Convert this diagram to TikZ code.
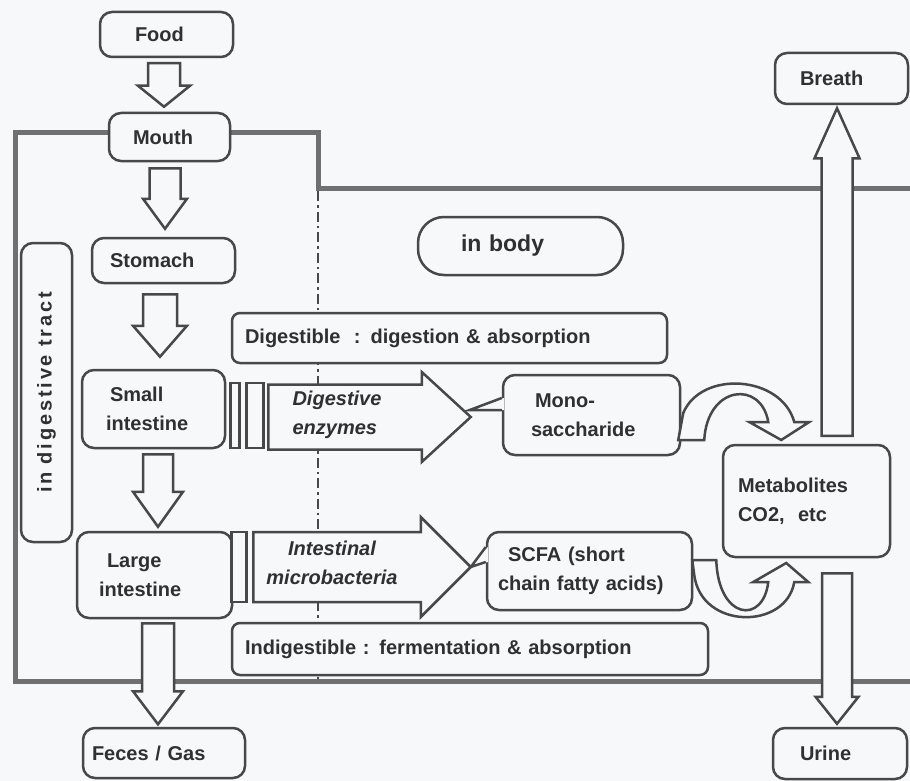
\documentclass[tikz,border=0pt]{standalone}
\usepackage{fontspec}
\setmainfont{Liberation Sans}
\usepackage{tikz}
\usetikzlibrary{calc}
\definecolor{paper}{RGB}{246,248,250}
\definecolor{edge}{RGB}{72,72,72}
\definecolor{ink}{RGB}{48,48,48}
\definecolor{frame}{RGB}{112,112,112}
\newcommand{\boxfont}{\fontsize{20}{29}\selectfont\bfseries}
\tikzstyle{box_r} = [rectangle, rounded corners=12pt, draw=edge, line width=2.5pt, fill=paper, text=ink, font=\boxfont, align=left, inner ysep=0pt]
\tikzstyle{box_t} = [text=ink, font=\boxfont, align=left, inner sep=0pt]
\tikzstyle{blk} = [draw=edge, line width=2.5pt, fill=paper, line join=miter]
\tikzstyle{wall} = [draw=frame, line width=5pt]
\tikzstyle{gut_line} = [draw=edge, line width=2.5pt, dash pattern=on 10pt off 4pt on 2.5pt off 4pt]
% vertical block arrow: from, to, half shaft, half head, head length
\newcommand{\vblock}[5]{%
  \draw[blk] let \p1=(#1), \p2=(#2), \n1={ifthenelse(\y2>\y1,1,-1)} in
    ({\x2-#3},\y1) -- ({\x2-#3},{\y2-(\n1)*#5}) -- ({\x2-#4},{\y2-(\n1)*#5}) -- (\x2,\y2)
    -- ({\x2+#4},{\y2-(\n1)*#5}) -- ({\x2+#3},{\y2-(\n1)*#5}) -- ({\x2+#3},\y1) -- cycle;}
% horizontal block arrow (to the right): from, tip, half shaft, half head, head length
\newcommand{\hblock}[5]{%
  \draw[blk] let \p1=(#1), \p2=(#2) in
    (\x1,{\y2+#3}) -- ({\x2-#5},{\y2+#3}) -- ({\x2-#5},{\y2+#4}) -- (\x2,\y2)
    -- ({\x2-#5},{\y2-#4}) -- ({\x2-#5},{\y2-#3}) -- (\x1,{\y2-#3}) -- cycle;}

\begin{document}
\begin{tikzpicture}[x=1pt,y=-1pt]
\useasboundingbox (0,0) rectangle (910,781);
\fill[paper] (0,0) rectangle (910,781);

% body wall and tract border
\draw[wall] (910,681) -- (15,681) -- (15,133) -- (110,133);
\draw[wall] (228,133) -- (318,133) -- (318,188) -- (910,188);
\draw[gut_line] (318,191) -- (318,679);

% tract
\node [box_r, inner xsep=35pt, text width=63pt, minimum height=45pt] (food) at (166.5,34.5) {Food};
\node [box_r, inner xsep=24pt, text width=73pt, minimum height=48pt] (mouth) at (169.5,137) {Mouth};
\node [box_r, inner xsep=18pt, text width=107pt, minimum height=45pt] (stomach) at (163.5,260.5) {Stomach};
\node [box_r, inner xsep=24pt, text width=95pt, minimum height=78pt] (small) at (153.5,409) {\hspace*{4pt}Small\\intestine};
\node [box_r, inner xsep=22pt, text width=111pt, minimum height=86pt] (large) at (154.5,575) {\hspace*{8pt}Large\\intestine};
\node [box_r, inner xsep=9pt, text width=144pt, minimum height=50pt] (feces) at (164,753) {Feces / Gas};
\node [box_r, rotate=90, align=center, inner sep=0pt, minimum width=299pt, minimum height=51pt,
       font=\boxfont\addfontfeatures{LetterSpace=14}] (tract) at (46.5,392.5) {in digestive tract};

% body
\node [box_r, rounded corners=26pt, inner xsep=43pt, text width=119pt, minimum height=58pt,
       font=\fontsize{23}{27}\selectfont\bfseries] (inbody) at (520.5,246) {in body};
\node [box_r, rounded corners=8pt, inner xsep=13pt, text width=409pt, minimum height=50pt] (digest) at (449.5,338) {Digestible\ \ : digestion \& absorption};
\node [box_r, rounded corners=8pt, inner xsep=13pt, text width=450pt, minimum height=52pt] (indig) at (470,649) {Indigestible : fermentation \& absorption};
\node [box_r, inner xsep=28pt, text width=121pt, minimum height=80pt] (mono) at (591.5,415) {\hspace*{4pt}Mono-\\saccharide};
\node [box_r, inner xsep=11pt, text width=183pt, minimum height=78pt] (scfa) at (589.5,571) {\hspace*{10pt}SCFA (short\\chain fatty acids)};
\node [box_r, inner xsep=15pt, text width=137pt, minimum height=112pt] (metab) at (806.5,501) {Metabolites\\CO2,\ \ etc};
\node [box_r, inner xsep=25pt, text width=83pt, minimum height=51pt] (breath) at (841.5,78.5) {Breath};
\node [box_r, inner xsep=27pt, text width=80pt, minimum height=51pt] (urine) at (840,753.5) {Urine};

% passage through the tract
\vblock{$(food.south)+(-3,5)$}{$(mouth.north)+(-5.5,-5)$}{16pt}{26pt}{21pt}
\vblock{$(mouth.south)+(-4,6)$}{$(stomach.north)+(1.5,-8)$}{15.5pt}{22pt}{30pt}
\vblock{$(stomach.south)+(-3.5,10)$}{$(small.north)+(6.5,-12)$}{17pt}{27pt}{31pt}
\vblock{$(small.south)+(4.5,5)$}{$(large.north)+(3.5,-4)$}{15pt}{25pt}{35pt}
\vblock{$(large.south)+(3.5,4)$}{$(feces.north)+(-6,-2.5)$}{16pt}{25pt}{33pt}
\vblock{$(metab.north)+(30.5,-8)$}{$(breath.south)+(-4.5,3)$}{15.5pt}{22.5pt}{50pt}
\vblock{$(metab.south)+(30.5,15)$}{$(urine.north)+(-3,-3)$}{15pt}{21.5pt}{27pt}

% absorption
\draw[blk] ($(small.east)+(4,-26)$) rectangle +(9,65);
\draw[blk] ($(small.east)+(20,-26)$) rectangle +(17,65);
\hblock{$(small.east)+(42,0)$}{$(mono.west)+(-31,2)$}{32.5pt}{45pt}{49pt}
\node [box_t] (enz) at (337,415) {\itshape Digestive\\\itshape enzymes};
\draw[blk] ($(large.east)+(-2,-43)$) rectangle +(15,70);
\hblock{$(large.east)+(20,0)$}{$(scfa.west)+(-15,-4)$}{35pt}{50pt}{50pt}
\node [box_t, align=center] (micro) at (332,563) {\itshape Intestinal\\\itshape microbacteria};

% callout tails
\fill[paper] ($(mono.west)+(2,-17)$) -- ($(mono.west)+(-32,-5)$) -- ($(mono.west)+(2,-5)$) -- cycle;
\draw[edge, line width=2.5pt] ($(mono.west)+(0,-17)$) -- ($(mono.west)+(-32,-5)$) -- ($(mono.west)+(0,-5)$);
\fill[paper] ($(scfa.west)+(2,-24)$) -- ($(scfa.west)+(-15,-4)$) -- ($(scfa.west)+(2,-9)$) -- cycle;
\draw[edge, line width=2.5pt] ($(scfa.west)+(0,-24)$) -- ($(scfa.west)+(-15,-4)$) -- ($(scfa.west)+(0,-9)$);

% curved arrows into metabolites
\draw[blk, shift={(mono.east)}] (23,25) .. controls (26,-30) and (80,-35) .. (87,7) -- (68,7) -- (100,25)
   -- (128,7) -- (113,7) .. controls (100,-40) and (20,-45) .. (2,-2) -- (-3,25) -- cycle;
\draw[blk, shift={(scfa.east)}] (23,-11) .. controls (25,49) and (70,54) .. (75,11) -- (60,11) -- (93,-8)
   -- (115,11) -- (101,11) .. controls (93,59) and (8,59) .. (1,4) -- (-1,-11) -- cycle;
\end{tikzpicture}
\end{document}
